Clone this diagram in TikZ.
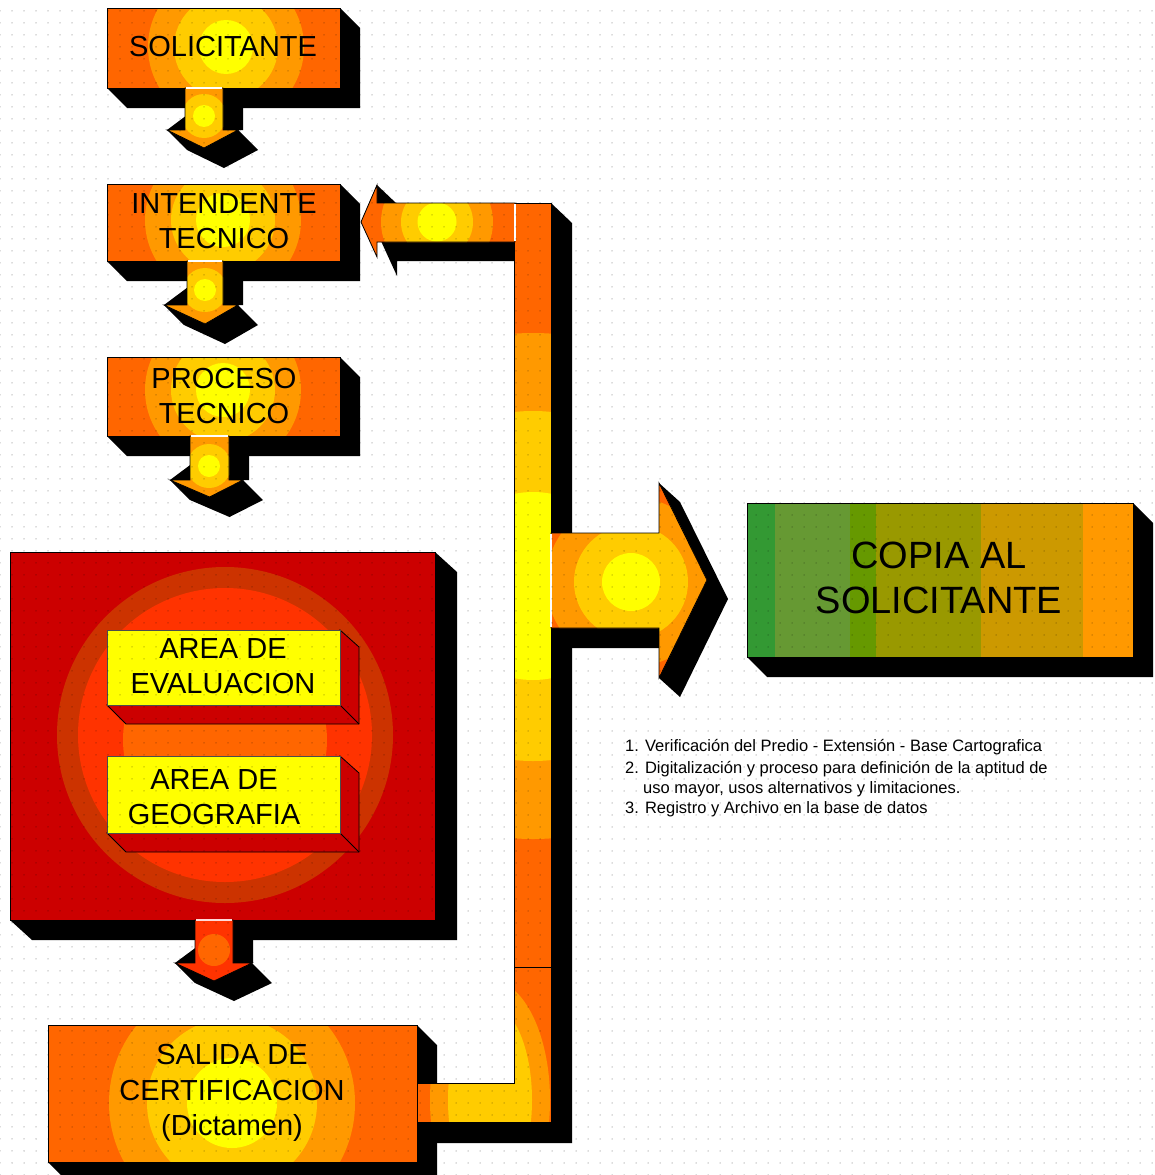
\documentclass[tikz,border=0pt]{standalone}
\usepackage{fontspec}
\setmainfont{Liberation Sans}
\usetikzlibrary{patterns.meta}
\definecolor{oA}{HTML}{FF6600}
\definecolor{oB}{HTML}{FF9900}
\definecolor{oC}{HTML}{FFCC00}
\definecolor{oD}{HTML}{FFFF00}
\definecolor{rA}{HTML}{CC0000}
\definecolor{rB}{HTML}{CC3300}
\definecolor{rC}{HTML}{FF3300}
\definecolor{gA}{HTML}{339933}
\definecolor{gB}{HTML}{669933}
\definecolor{gC}{HTML}{669900}
\definecolor{gD}{HTML}{999900}
\definecolor{gE}{HTML}{CC9900}
\definecolor{gF}{HTML}{FF9900}
\newcommand\boxshadow[6]{\fill[black] (#1,#2) -- (#3,#2) -- ({#3+#5},{#2+#6}) -- ({#3+#5},{#4+#6}) -- ({#1+#5},{#4+#6}) -- (#1,#4) -- cycle;}
\newcommand\darrshadow[7]{\fill[black] (#2,#3) -- ({#2+20},{#3+20}) -- ({#2+20},#4) -- (#6,#4) -- ({#6+20},{#4+20}) -- ({(#1+#2)/2+20},{#7+20}) -- ({#5+20},{#4+20}) -- (#5,#4) -- cycle;}
\newcommand\darrpath[7]{(#1,#3) -- (#2,#3) -- (#2,#4) -- (#6,#4) -- ({(#1+#2)/2},#7) -- (#5,#4) -- (#1,#4) -- cycle}
\newcommand\pipepath{(514,203) -- (551,203) -- (551,1122) -- (417,1122) -- (417,1083) -- (514,1083) -- cycle}
\newcommand\toparr{(361,222) -- (377,185) -- (377,203) -- (515,203) -- (515,242) -- (377,242) -- (377,257) -- cycle}
\newcommand\rightarr{(551,533) -- (659,533) -- (659,483) -- (707,580) -- (659,678) -- (659,628) -- (551,628) -- cycle}
\tikzset{
  outl/.style={draw=black, line width=0.8pt},
  seam/.style={draw=white, line width=1.4pt},
  boxtext/.style={font=\fontsize{29}{35.5}\selectfont, align=center, inner sep=0pt},
  notetext/.style={font=\fontsize{16.5}{20}\selectfont, anchor=base west, inner sep=0pt},
}
\begin{document}
\begin{tikzpicture}[x=1pt,y=-1pt]
\useasboundingbox (0,0) rectangle (1155,1175);
\clip (0,0) rectangle (1155,1175);
\fill[white] (0,0) rectangle (1155,1175);

% ---------- SOLICITANTE ----------
\boxshadow{107}{8}{340}{88}{20}{20}
\begin{scope}
 \clip (107,8) rectangle (340,88);
 \fill[oA] (107,8) rectangle (340,88);
 \fill[oB] (226,47) circle (78pt);
 \fill[oC] (226,47) circle (52pt);
 \fill[oD] (226,47) circle (27pt);
\end{scope}
\draw[outl] (107,8) rectangle (340,88);
\darrshadow{185}{223}{88}{130}{167}{238}{148}
\begin{scope}
 \clip \darrpath{185}{223}{88}{130}{167}{238}{148};
 \fill[oB] (150,80) rectangle (260,160);
 \fill[oC] (204,116) circle (22pt);
 \fill[oD] (204,116) circle (11pt);
\end{scope}
\draw[outl] \darrpath{185}{223}{88}{130}{167}{238}{148};
\draw[seam] (186,88) -- (222,88);

% ---------- INTENDENTE ----------
\boxshadow{107}{184}{340}{261}{20}{20}
\begin{scope}
 \clip (107,184) rectangle (340,261);
 \fill[oA] (107,184) rectangle (340,261);
 \fill[oB] (223,220) circle (78pt);
 \fill[oC] (223,220) circle (52pt);
 \fill[oD] (223,220) circle (27pt);
\end{scope}
\draw[outl] (107,184) rectangle (340,261);
\darrshadow{187}{223}{261}{305}{164}{238}{324}
\begin{scope}
 \clip \darrpath{187}{223}{261}{305}{164}{238}{324};
 \fill[oB] (150,250) rectangle (260,340);
 \fill[oC] (205,290) circle (22pt);
 \fill[oD] (205,290) circle (11pt);
\end{scope}
\draw[outl] \darrpath{187}{223}{261}{305}{164}{238}{324};
\draw[seam] (188,261) -- (222,261);

% ---------- PROCESO ----------
\boxshadow{107}{357}{340}{436}{20}{20}
\begin{scope}
 \clip (107,357) rectangle (340,436);
 \fill[oA] (107,357) rectangle (340,436);
 \fill[oB] (223,390) circle (78pt);
 \fill[oC] (223,390) circle (52pt);
 \fill[oD] (223,390) circle (27pt);
\end{scope}
\draw[outl] (107,357) rectangle (340,436);
\darrshadow{190}{229}{436}{480}{170}{243}{497}
\begin{scope}
 \clip \darrpath{190}{229}{436}{480}{170}{243}{497};
 \fill[oB] (150,420) rectangle (270,510);
 \fill[oC] (209,466) circle (22pt);
 \fill[oD] (209,466) circle (11pt);
\end{scope}
\draw[outl] \darrpath{190}{229}{436}{480}{170}{243}{497};
\draw[seam] (191,436) -- (228,436);

% ---------- red area box ----------
\boxshadow{10}{552}{435}{920}{22}{20}
\begin{scope}
 \clip (10,552) rectangle (435,920);
 \fill[rA] (10,552) rectangle (435,920);
 \fill[rB] (225,735) circle (168pt);
 \fill[rC] (225,735) circle (147pt);
 \fill[oA] (225,740) circle (102pt);
\end{scope}
\draw[outl] (10,552) rectangle (435,920);
% yellow box 1
\filldraw[fill=rA, draw=black, line width=0.8pt] (340,630) -- (359,647) -- (359,724) -- (126,724) -- (107,705) -- (340,705) -- cycle;
\draw[black, line width=0.8pt] (340,705) -- (359,724);
\filldraw[fill=oD, draw=gray!60!black, line width=0.6pt] (107,630) rectangle (340,705);
% yellow box 2
\filldraw[fill=rA, draw=black, line width=0.8pt] (340,756) -- (359,773) -- (359,852) -- (126,852) -- (107,833) -- (340,833) -- cycle;
\draw[black, line width=0.8pt] (340,833) -- (359,852);
\filldraw[fill=oD, draw=gray!60!black, line width=0.6pt] (107,756) rectangle (340,833);
% arrow below red box
\darrshadow{195}{233}{920}{963}{175}{252}{981}
\begin{scope}
 \clip \darrpath{195}{233}{920}{963}{175}{252}{981};
 \fill[rC] (160,910) rectangle (270,990);
 \fill[oA] (214,950) circle (16pt);
\end{scope}
\draw[outl] \darrpath{195}{233}{920}{963}{175}{252}{981};
\draw[seam, draw=white!85!red] (196,920) -- (232,920);

% ---------- SALIDA ----------
\boxshadow{48}{1025}{417}{1162}{20}{20}
\begin{scope}
 \clip (48,1025) rectangle (417,1162);
 \fill[oA] (48,1025) rectangle (417,1162);
 \fill[oB] (232,1103) circle (123pt);
 \fill[oC] (232,1103) circle (85pt);
 \fill[oD] (232,1103) circle (45pt);
\end{scope}
\draw[outl] (48,1025) rectangle (417,1162);

% ---------- pipe ----------
\fill[black] (514,203) -- (551,203) -- (572,223) -- (572,1143) -- (437,1143) -- (417,1122) -- (417,1083) -- (514,1083) -- cycle;
\begin{scope}
 \clip \pipepath;
 \fill[oA] (400,200) rectangle (600,1130);
 \begin{scope}
  \clip (500,200) rectangle (560,967);
  \fill[oB] (533,586) circle (253pt);
  \fill[oC] (533,586) circle (175pt);
  \fill[oD] (533,586) circle (94pt);
 \end{scope}
 \begin{scope}
  \clip (400,967) rectangle (560,1130);
  \fill[oB] (490,1100) ellipse [x radius=60pt, y radius=120pt];
  \fill[oC] (490,1100) ellipse [x radius=42pt, y radius=95pt];
 \end{scope}
\end{scope}
\draw[outl] \pipepath;
\draw[outl] (514,967) -- (551,967);

% top arrow to INTENDENTE
\fill[black] (361,222) -- (377,185) -- (397,204) -- (514,204) -- (514,261) -- (397,261) -- (397,276) -- (381,241) -- cycle;
\begin{scope}
 \clip \toparr;
 \fill[oA] (350,180) rectangle (520,260);
 \fill[oB] (437,222) circle (56pt);
 \fill[oC] (437,222) circle (36pt);
 \fill[oD] (437,222) circle (19.5pt);
\end{scope}
\draw[outl] \toparr;
\draw[seam] (515,204) -- (515,241);

% right arrow to COPIA
\fill[black] (551,628) -- (659,628) -- (659,483) -- (680,502) -- (728,599) -- (680,697) -- (659,678) -- (659,648) -- (551,648) -- cycle;
\begin{scope}
 \clip \rightarr;
 \fill[oA] (540,470) rectangle (720,690);
 \fill[oB] (631,582) circle (85pt);
 \fill[oC] (631,582) circle (57pt);
 \fill[oD] (631,582) circle (29pt);
\end{scope}
\draw[outl] \rightarr;
\draw[seam] (551,534) -- (551,627);

% ---------- COPIA AL SOLICITANTE ----------
\boxshadow{747}{503}{1133}{657}{20}{20}
\fill[gA] (747,503) rectangle (775,657);
\fill[gB] (775,503) rectangle (850,657);
\fill[gC] (850,503) rectangle (876,657);
\fill[gD] (876,503) rectangle (981,657);
\fill[gE] (981,503) rectangle (1083,657);
\fill[gF] (1083,503) rectangle (1133,657);
\draw[outl] (747,503) rectangle (1133,657);

% ---------- background dots ----------
\fill[pattern={Dots[distance=12pt, radius=0.75pt]}, pattern color=black, opacity=0.28] (0,0) rectangle (1155,1175);

% ---------- texts ----------
\node[boxtext] (sol) at (223,47) {SOLICITANTE};
\node[boxtext] (int) at (224,221) {INTENDENTE\\TECNICO};
\node[boxtext] (pro) at (224,396) {PROCESO\\TECNICO};
\node[boxtext] (eva) at (223,666) {AREA DE\\EVALUACION};
\node[boxtext] (geo) at (214,797) {AREA DE\\GEOGRAFIA};
\node[boxtext] (sal) at (232,1093) {SALIDA DE\\CERTIFICACION\\(Dictamen)};
\node[boxtext, font=\fontsize{38}{45}\selectfont] (cop) at (939,578) {COPIA AL\\SOLICITANTE};
\node[notetext] (n1) at (625,751) {1. Verificación del Predio - Extensión - Base Cartografica};
\node[notetext] (n2) at (625,773.5) {2. Digitalización y proceso para definición de la aptitud de};
\node[notetext] (n3) at (643,793) {uso mayor, usos alternativos y limitaciones.};
\node[notetext] (n4) at (625,813) {3. Registro y Archivo en la base de datos};
\end{tikzpicture}
\end{document}
